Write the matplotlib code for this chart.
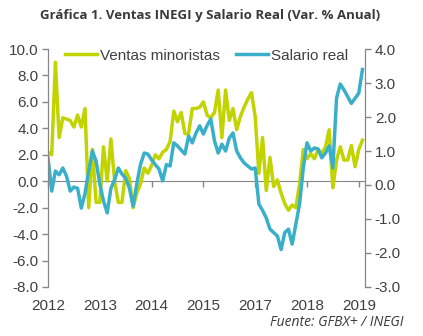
import numpy as np
import matplotlib.pyplot as plt
from matplotlib.ticker import FormatStrFormatter

# monthly series, annual % change
ventas = [2.2, 2.0, 9.0, 3.3, 4.8, 4.7, 4.6, 4.1, 5.0, 4.1,
          5.5, -2.0, 2.4, -1.6, -1.6, 2.6, 0.0, 3.2, 0.0, -1.6,
          -1.6, 0.8, 0.2, -2.0, -0.9, -0.2, 1.0, 0.6, 1.2, 2.0,
          1.7, 2.2, 2.4, 3.0, 5.3, 4.5, 5.2, 3.6, 3.6, 5.5,
          5.5, 5.6, 6.0, 5.0, 4.8, 5.2, 6.9, 3.3, 6.9, 4.6,
          5.5, 3.9, 4.9, 5.6, 6.2, 6.7, 4.9, 0.6, 3.3, -0.7,
          1.8, -0.4, 0.1, -0.9, -1.7, -2.2, -1.8, -2.0, -0.2, 2.4,
          1.7, 2.1, 1.7, 2.4, 2.1, 2.6, 3.9, -0.5, 1.6, 2.6,
          1.6, 1.6, 2.7, 1.1, 2.4, 3.1]

salario = [0.8, -0.18, 0.41, 0.3, 0.5, 0.26, -0.18, -0.06, -0.1, -0.68,
           -0.25, 0.41, 1.0, 0.7, 0.03, -0.47, -0.82, -0.1, 0.15, 0.5,
           0.32, 0.2, -0.09, -0.62, 0.03, 0.6, 0.94, 0.91, 0.74, 0.6,
           0.47, 0.12, 0.6, 0.56, 1.24, 1.15, 1.03, 0.91, 1.44, 1.24,
           1.53, 1.74, 1.5, 1.75, 1.94, 1.3, 0.94, 1.2, 1.0, 1.38,
           1.53, 1.0, 0.8, 0.65, 0.56, 0.47, 0.5, -0.56, -0.75, -0.97,
           -1.3, -1.4, -1.5, -1.9, -1.4, -1.3, -1.74, -1.15, -0.56, 0.5,
           1.24, 1.0, 1.09, 1.06, 0.8, 0.94, 1.15, 0.5, 2.56, 2.97,
           2.8, 2.6, 2.4, 2.55, 2.7, 3.4]

year_labels = ["2012", "2013", "2014", "2015", "2017", "2018", "2019"]
year_pos = [0, 14, 28, 42, 56, 70, 84]

green = "#C2D400"
blue = "#3AAFC9"
grey = "#868686"
txt = "#404040"

plt.rcParams["font.family"] = "Liberation Sans"

fig = plt.figure(figsize=(4.23, 3.36), dpi=100)
ax = fig.add_axes([0.1135, 0.146, 0.7495, 0.708])
ax2 = ax.twinx()

x = np.arange(len(ventas))
l1, = ax.plot(x, ventas, color=green, lw=2.5, solid_joinstyle="round",
              label="Ventas minoristas")
l2, = ax2.plot(x, salario, color=blue, lw=2.5, solid_joinstyle="round",
               label="Salario real")

ax.set_xlim(0, 85.7)
ax.set_ylim(-8, 10)
ax2.set_ylim(-3, 4)
ax.set_yticks(np.arange(-8, 10.1, 2))
ax2.set_yticks(np.arange(-3, 4.1, 1))
ax.yaxis.set_major_formatter(FormatStrFormatter("%.1f"))
ax2.yaxis.set_major_formatter(FormatStrFormatter("%.1f"))

for a in (ax, ax2):
    a.spines["top"].set_visible(False)
    a.spines["bottom"].set_visible(False)
    a.spines["left"].set_color(grey)
    a.spines["right"].set_color(grey)
    a.tick_params(axis="y", colors=grey, labelcolor=txt, labelsize=11,
                  length=4, width=1, pad=3)

# year labels along the bottom, no tick marks there
ax.set_xticks(year_pos)
ax.set_xticklabels(year_labels)
ax.tick_params(axis="x", length=0, labelsize=11, labelcolor=txt, pad=9)

# horizontal axis line crossing at zero with its own tick marks
zero_axis = ax.secondary_xaxis(8 / 18)
zero_axis.set_xticks(year_pos)
zero_axis.tick_params(axis="x", direction="out", length=4, width=1,
                      colors=grey, labelbottom=False, labeltop=False)
zero_axis.spines["bottom"].set_color(grey)
zero_axis.spines["top"].set_visible(False)

ax2.legend(handles=[l1, l2], loc="upper center", bbox_to_anchor=(0.5, 1.06),
           ncol=2, frameon=False, fontsize=11, handlelength=2.1,
           handletextpad=0.2, columnspacing=1.0, labelcolor=txt)

fig.text(0.497, 0.955, "Gráfica 1. Ventas INEGI y Salario Real (Var. % Anual)",
         ha="center", va="center", fontsize=9.5, fontweight="bold",
         color="#3a3a3a", family="Open Sans")
fig.text(0.953, 0.04, "Fuente: GFBX+ / INEGI", ha="right", va="center",
         fontsize=10, style="italic", color="#3a3a3a", family="Open Sans")

fig.savefig("out.png", dpi=100)
